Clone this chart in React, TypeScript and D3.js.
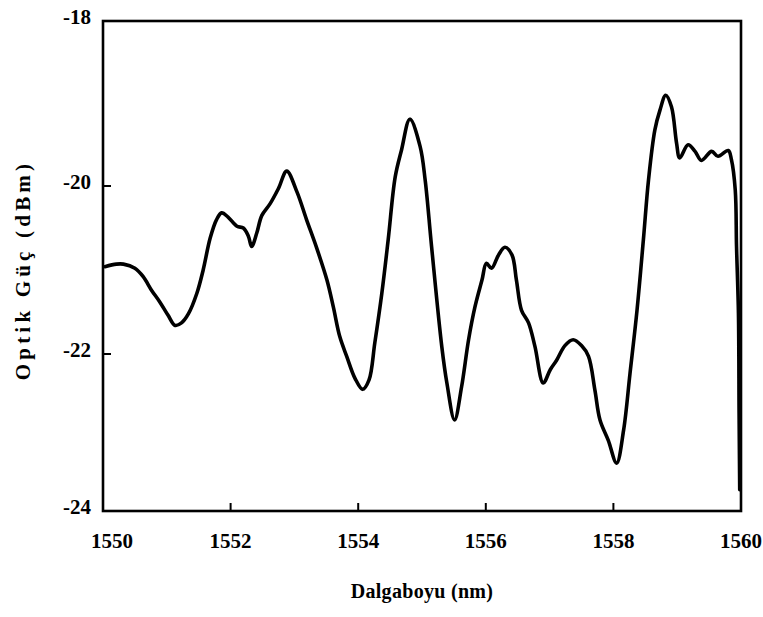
import React from "react";
import * as d3 from "d3";

const wavelength = [
  1550.03, 1550.21, 1550.32, 1550.5, 1550.63, 1550.76, 1550.89, 1551.02, 1551.13, 1551.23,
  1551.34, 1551.47, 1551.57, 1551.68, 1551.78, 1551.86, 1551.96, 1552.1, 1552.2, 1552.28,
  1552.33, 1552.41, 1552.49, 1552.62, 1552.75, 1552.88, 1553.04, 1553.19, 1553.35, 1553.51,
  1553.61, 1553.71, 1553.82, 1553.95, 1554.07, 1554.17, 1554.26, 1554.37, 1554.47, 1554.58,
  1554.68, 1554.81, 1554.97, 1555.05, 1555.15, 1555.31, 1555.39, 1555.51, 1555.62, 1555.73,
  1555.83, 1555.94, 1556.01, 1556.09, 1556.2, 1556.3, 1556.41, 1556.48, 1556.56, 1556.67,
  1556.77, 1556.9, 1557.01, 1557.11, 1557.24, 1557.37, 1557.5, 1557.61, 1557.71, 1557.79,
  1557.92, 1558.05, 1558.16, 1558.26, 1558.37, 1558.47, 1558.55, 1558.65, 1558.73, 1558.82,
  1558.91, 1558.99, 1559.04, 1559.17, 1559.28, 1559.38, 1559.54, 1559.64, 1559.8, 1559.85,
  1559.91, 1559.93, 1559.96, 1559.97, 1559.98,
];

const power = [
  -20.96, -20.93, -20.93, -20.98, -21.08, -21.24, -21.38, -21.54, -21.66, -21.63,
  -21.52, -21.28, -21.0, -20.62, -20.4, -20.32, -20.37, -20.48, -20.5, -20.6,
  -20.72, -20.56, -20.35, -20.21, -20.03, -19.82, -20.07, -20.4, -20.74, -21.12,
  -21.44, -21.79, -22.03, -22.31, -22.45, -22.33, -21.87, -21.28, -20.64, -19.89,
  -19.56, -19.19, -19.52, -19.93, -20.72, -21.91, -22.37, -22.84, -22.42, -21.83,
  -21.44, -21.12, -20.92, -20.98, -20.82, -20.73, -20.82, -21.12, -21.48, -21.63,
  -21.91, -22.37, -22.2, -22.08, -21.9, -21.83, -21.9, -22.03, -22.46, -22.84,
  -23.1, -23.39, -22.97, -22.25, -21.48, -20.64, -19.93, -19.32, -19.08, -18.9,
  -19.04, -19.48, -19.66, -19.5, -19.58, -19.69, -19.58, -19.64, -19.57, -19.68,
  -20.05, -20.72, -21.52, -22.76, -23.73,
];

const xTicks = [1550, 1552, 1554, 1556, 1558, 1560];
const yTicks = [-18, -20, -22, -24];

const W = 763;
const H = 617;
const left = 103;
const right = 741;
const top = 21;
const bottom = 511;

const FONT = '"Liberation Serif", "DejaVu Serif", serif';

export default function App() {
  const x = d3.scaleLinear().domain([1550, 1560]).range([left, right]);
  // the scanned original has slightly uneven spacing between y ticks
  const y = d3.scaleLinear().domain([-18, -20, -22, -24]).range([top, 186, 354, bottom]);

  const pts = wavelength.map((w, i) => [w, power[i]] as [number, number]);
  const line = d3
    .line<[number, number]>()
    .x((d) => x(d[0]))
    .y((d) => y(d[1]))
    .curve(d3.curveCatmullRom.alpha(0.5));

  const txt = { fontFamily: FONT, fontWeight: 700 as const };

  return (
    <svg
      width={W}
      height={H}
      style={{ position: "absolute", left: 0, top: 0, background: "#fff" }}
    >
      <rect x={0} y={0} width={W} height={H} fill="#fff" />
      <path d={line(pts) || ""} fill="none" stroke="#000" strokeWidth={3.6} strokeLinejoin="round" strokeLinecap="round" />
      <rect x={left} y={top} width={right - left} height={bottom - top} fill="none" stroke="#000" strokeWidth={2.6} />
      {xTicks.slice(1, -1).map((t) => (
        <line key={"xt" + t} x1={x(t)} x2={x(t)} y1={bottom} y2={bottom - 8} stroke="#000" strokeWidth={2} />
      ))}
      {yTicks.slice(1, -1).map((t) => (
        <line key={"yt" + t} x1={left} x2={left + 8} y1={y(t)} y2={y(t)} stroke="#000" strokeWidth={2} />
      ))}
      {xTicks.map((t, i) => (
        <text
          key={"xl" + t}
          x={x(t) + (i === 0 ? 9 : 0)}
          y={548}
          textAnchor="middle"
          style={{ ...txt, fontSize: 21 }}
        >
          {t}
        </text>
      ))}
      {yTicks.map((t) => (
        <text
          key={"yl" + t}
          x={91}
          y={y(t) + 3}
          textAnchor="end"
          style={{ ...txt, fontSize: 21 }}
        >
          {t}
        </text>
      ))}
      <text x={422} y={598} textAnchor="middle" style={{ ...txt, fontSize: 20, letterSpacing: 0.3 }}>
        Dalgaboyu (nm)
      </text>
      <text
        transform="translate(30,270) rotate(-90)"
        textAnchor="middle"
        style={{ ...txt, fontSize: 21, letterSpacing: 4.2 }}
      >
        Optik Güç (dBm)
      </text>
    </svg>
  );
}
